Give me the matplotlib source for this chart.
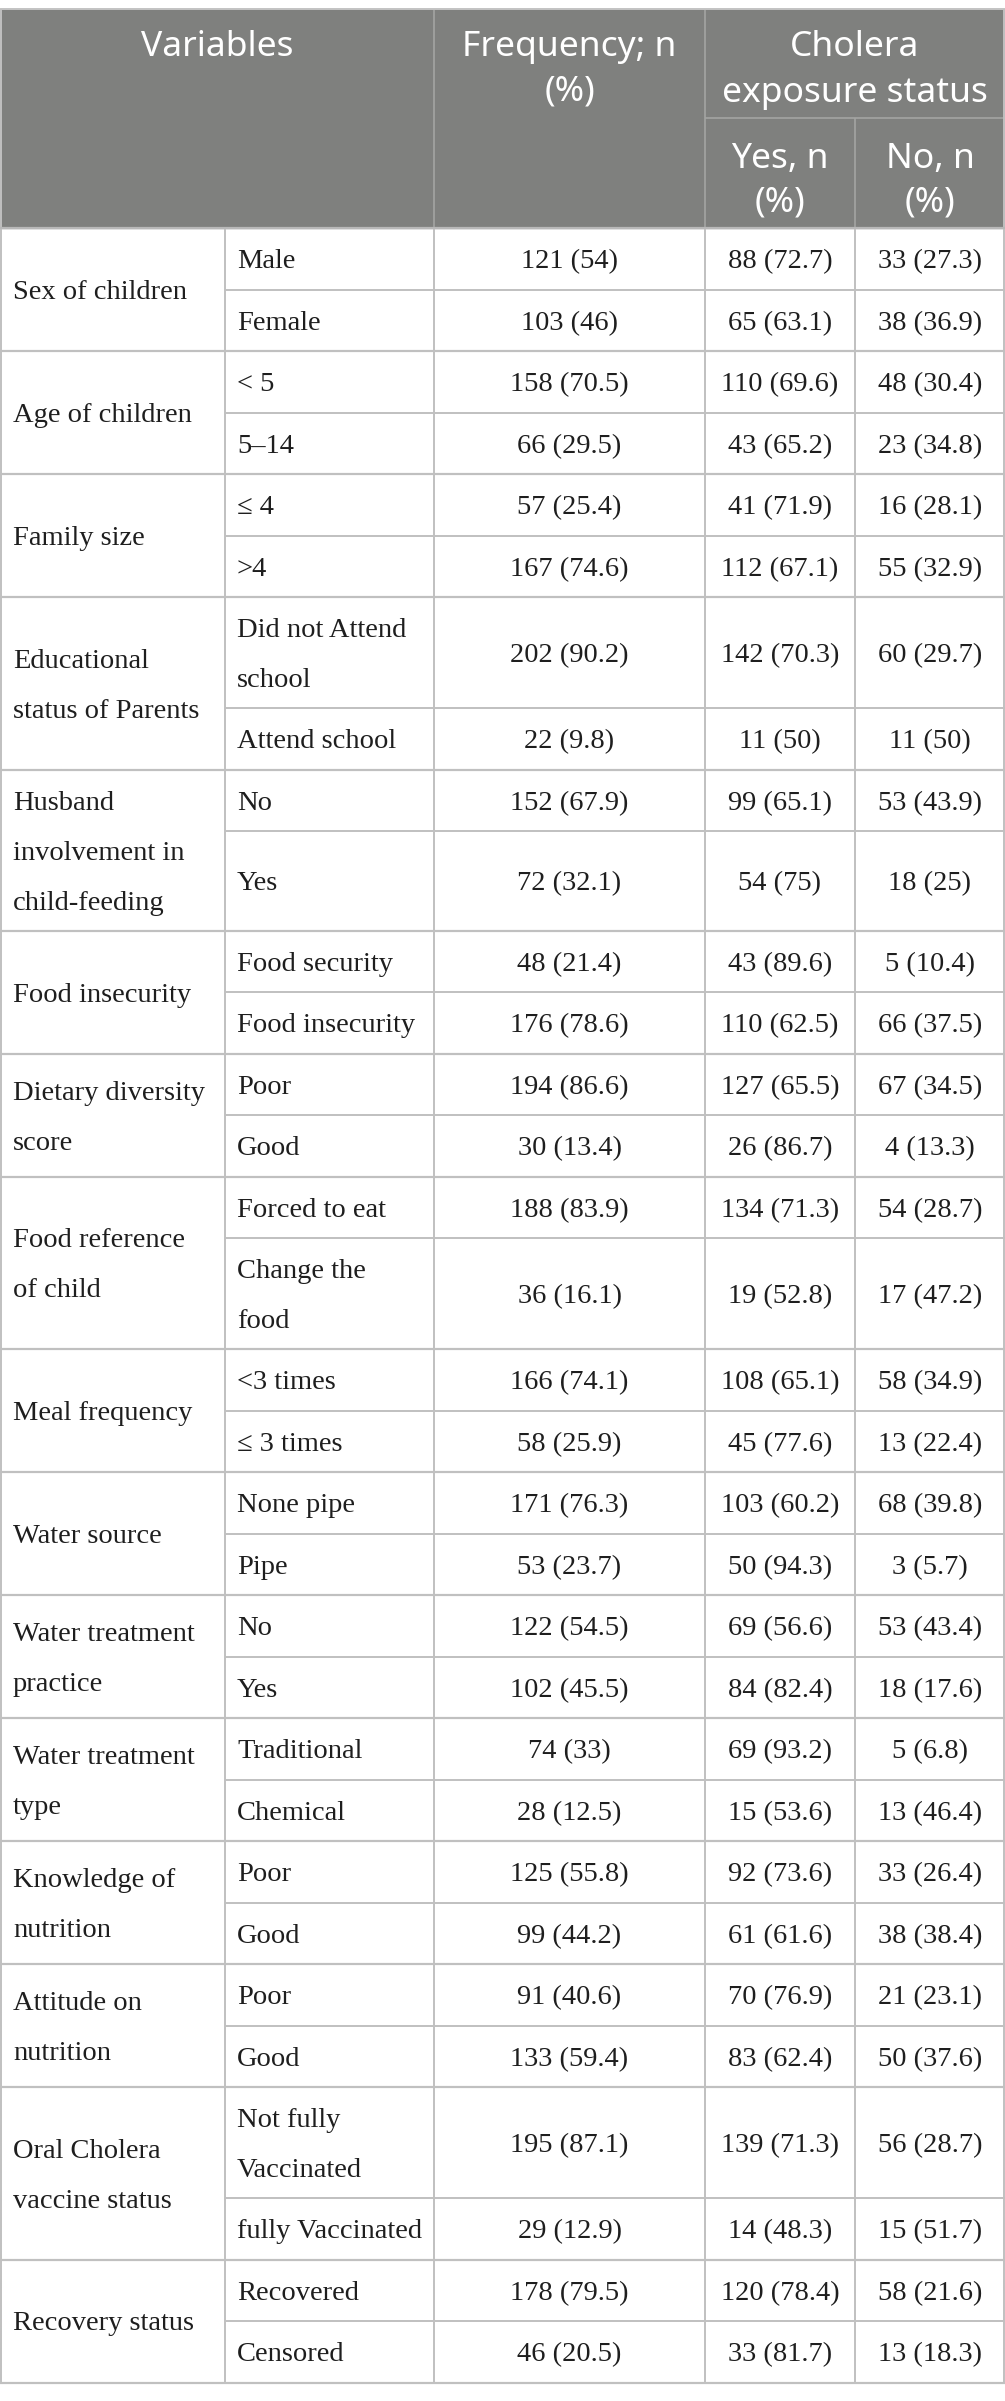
import matplotlib.pyplot as plt

# table content
groups = [
    "Sex of children", "Age of children", "Family size",
    "Educational\nstatus of Parents", "Husband\ninvolvement in\nchild-feeding",
    "Food insecurity", "Dietary diversity\nscore", "Food reference\nof child",
    "Meal frequency", "Water source", "Water treatment\npractice",
    "Water treatment\ntype", "Knowledge of\nnutrition", "Attitude on\nnutrition",
    "Oral Cholera\nvaccine status", "Recovery status",
]
categories = [
    ["Male", "Female"], ["< 5", "5\u201314"], ["\u2264 4", ">4"],
    ["Did not Attend\nschool", "Attend school"], ["No", "Yes"],
    ["Food security", "Food insecurity"], ["Poor", "Good"],
    ["Forced to eat", "Change the\nfood"], ["<3 times", "\u2264 3 times"],
    ["None pipe", "Pipe"], ["No", "Yes"], ["Traditional", "Chemical"],
    ["Poor", "Good"], ["Poor", "Good"],
    ["Not fully\nVaccinated", "fully Vaccinated"], ["Recovered", "Censored"],
]
frequency = [
    ["121 (54)", "103 (46)"], ["158 (70.5)", "66 (29.5)"], ["57 (25.4)", "167 (74.6)"],
    ["202 (90.2)", "22 (9.8)"], ["152 (67.9)", "72 (32.1)"], ["48 (21.4)", "176 (78.6)"],
    ["194 (86.6)", "30 (13.4)"], ["188 (83.9)", "36 (16.1)"], ["166 (74.1)", "58 (25.9)"],
    ["171 (76.3)", "53 (23.7)"], ["122 (54.5)", "102 (45.5)"], ["74 (33)", "28 (12.5)"],
    ["125 (55.8)", "99 (44.2)"], ["91 (40.6)", "133 (59.4)"], ["195 (87.1)", "29 (12.9)"],
    ["178 (79.5)", "46 (20.5)"],
]
exposed_yes = [
    ["88 (72.7)", "65 (63.1)"], ["110 (69.6)", "43 (65.2)"], ["41 (71.9)", "112 (67.1)"],
    ["142 (70.3)", "11 (50)"], ["99 (65.1)", "54 (75)"], ["43 (89.6)", "110 (62.5)"],
    ["127 (65.5)", "26 (86.7)"], ["134 (71.3)", "19 (52.8)"], ["108 (65.1)", "45 (77.6)"],
    ["103 (60.2)", "50 (94.3)"], ["69 (56.6)", "84 (82.4)"], ["69 (93.2)", "15 (53.6)"],
    ["92 (73.6)", "61 (61.6)"], ["70 (76.9)", "83 (62.4)"], ["139 (71.3)", "14 (48.3)"],
    ["120 (78.4)", "33 (81.7)"],
]
exposed_no = [
    ["33 (27.3)", "38 (36.9)"], ["48 (30.4)", "23 (34.8)"], ["16 (28.1)", "55 (32.9)"],
    ["60 (29.7)", "11 (50)"], ["53 (43.9)", "18 (25)"], ["5 (10.4)", "66 (37.5)"],
    ["67 (34.5)", "4 (13.3)"], ["54 (28.7)", "17 (47.2)"], ["58 (34.9)", "13 (22.4)"],
    ["68 (39.8)", "3 (5.7)"], ["53 (43.4)", "18 (17.6)"], ["5 (6.8)", "13 (46.4)"],
    ["33 (26.4)", "38 (38.4)"], ["21 (23.1)", "50 (37.6)"], ["56 (28.7)", "15 (51.7)"],
    ["58 (21.6)", "13 (18.3)"],
]

W, H = 1005, 2401
col_x = [0, 225, 434, 705, 855, 1005]
top, head_mid, head_bot = 9, 118, 228
row_h, line_h = 61.5, 50

header_bg = "#7f807e"
head_line = "#a4a5a3"
body_line = "#c0c0c0"
text_col = "#1e1e1e"

fig = plt.figure(figsize=(W / 100, H / 100), dpi=100)
ax = fig.add_axes([0, 0, 1, 1])
ax.set_xlim(0, W)
ax.set_ylim(H, 0)
ax.axis("off")


def put_lines(x, yc, s, ha, spacing=line_h, **kw):
    # one text per line so the line pitch matches the reference
    lines = s.split("\n")
    n = len(lines)
    for i, ln in enumerate(lines):
        ax.text(x, yc + (i - (n - 1) / 2) * spacing, ln,
                ha=ha, va="center_baseline", **kw)


# header
ax.add_patch(plt.Rectangle((0, top), W, head_bot - top, color=header_bg, zorder=0))
hk = dict(family="Noto Sans", fontsize=25.5, color="white")
put_lines((col_x[0] + col_x[2]) / 2, 43, "Variables", "center", **hk)
put_lines((col_x[2] + col_x[3]) / 2, 65.5, "Frequency; n\n(%)", "center", spacing=45, **hk)
put_lines((col_x[3] + col_x[5]) / 2, 66.5, "Cholera\nexposure status", "center", spacing=46, **hk)
put_lines((col_x[3] + col_x[4]) / 2, 176.5, "Yes, n\n(%)", "center", spacing=44, **hk)
put_lines((col_x[4] + col_x[5]) / 2, 176.5, "No, n\n(%)", "center", spacing=44, **hk)

ax.vlines([col_x[2], col_x[3]], top, head_bot, color=head_line, lw=1.2)
ax.vlines(col_x[4], head_mid, head_bot, color=head_line, lw=1.2)
ax.hlines(head_mid, col_x[3], col_x[5], color=head_line, lw=1.2)
ax.hlines(top, 0, W, color="#c4c4c4", lw=1.4)

# body
bk = dict(family="Liberation Serif", fontsize=20.5, color=text_col)
y = head_bot
for g, cats, fr, ys, ns in zip(groups, categories, frequency, exposed_yes, exposed_no):
    heights = [row_h + c.count("\n") * 49.5 for c in cats]
    need = (g.count("\n") + 1) * line_h + 11
    if sum(heights) < need:
        heights[-1] += need - sum(heights)
    g_top = y
    g_bot = y + sum(heights)
    for c, f, a, b, h in zip(cats, fr, ys, ns, heights):
        yc = y + h / 2
        put_lines(col_x[1] + 12, yc, c, "left", **bk)
        put_lines((col_x[2] + col_x[3]) / 2, yc, f, "center", **bk)
        put_lines((col_x[3] + col_x[4]) / 2, yc, a, "center", **bk)
        put_lines((col_x[4] + col_x[5]) / 2, yc, b, "center", **bk)
        y += h
        if y < g_bot - 1:
            ax.hlines(y, col_x[1], W, color=body_line, lw=1.4)
    put_lines(col_x[0] + 13, (g_top + g_bot) / 2, g, "left", **bk)
    ax.hlines(y, 0, W, color=body_line, lw=1.6)

ax.vlines(col_x[1:5], head_bot, y, color=body_line, lw=1.4)
ax.vlines([0.7, W - 0.7], top, y, color=body_line, lw=1.4)
ax.hlines(head_bot, 0, W, color="#b8b8b8", lw=1.6)

fig.savefig("out.png", dpi=100, facecolor="white")
